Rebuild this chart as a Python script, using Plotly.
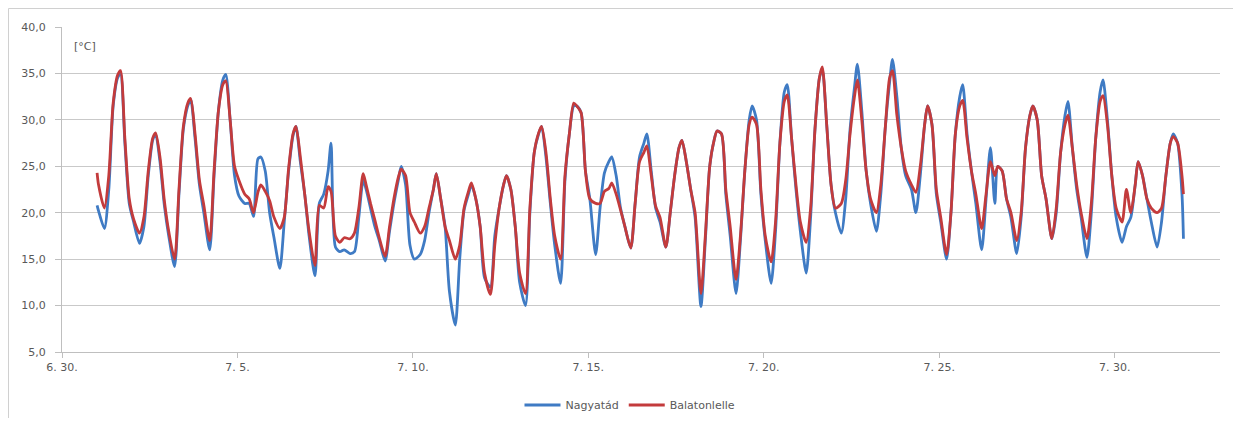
import datetime as dt
import plotly.graph_objects as go

# ---- data -------------------------------------------------------------
YEAR = 2012
DAYS = list(range(1, 32))                 # July 1 .. July 31
HOURS = [1, 5, 8, 11, 14, 16, 19, 22]     # sample hours within each day

START_N, START_B = 20.8, 24.3             # July 1, 00:00
END_N, END_B = 17.2, 22.0                 # July 31, 23:00

# Nagyatád (blue), one row per day, values at HOURS
NAGYATAD = [
    20.2, 18.3, 22.5, 31.5, 34.5, 35.0, 27.5, 21.0,
    19.0, 16.7, 18.5, 24.0, 27.8, 28.5, 25.5, 20.8,
    17.5, 14.2, 22.0, 29.0, 31.5, 32.2, 28.0, 23.0,
    20.0, 16.0, 24.0, 31.0, 34.3, 34.9, 30.0, 24.0,
    21.8, 21.0, 21.0, 19.6, 25.8, 26.0, 24.5, 20.0,
    17.3, 14.0, 19.0, 24.5, 28.3, 29.3, 25.5, 22.0,
    17.5, 13.2, 21.0, 22.0, 24.5, 27.5, 16.3, 15.8,
    16.0, 15.6, 15.8, 19.5, 23.5, 22.5, 20.5, 18.5,
    17.0, 14.8, 18.0, 21.0, 23.5, 25.0, 23.0, 16.5,
    15.0, 15.5, 17.0, 20.0, 22.5, 24.2, 21.5, 18.5,
    11.5, 7.9, 15.0, 20.3, 22.0, 23.0, 21.5, 18.5,
    13.0, 12.0, 17.5, 20.5, 23.0, 24.0, 22.5, 18.5,
    12.5, 10.0, 20.0, 26.5, 28.5, 29.3, 26.0, 21.0,
    16.5, 12.4, 23.5, 28.5, 31.5, 31.5, 30.8, 24.5,
    21.5, 15.5, 20.5, 24.3, 25.5, 26.0, 24.0, 20.5,
    18.5, 16.2, 21.0, 26.0, 27.5, 28.5, 24.5, 20.5,
    19.0, 16.3, 20.0, 24.0, 27.0, 27.8, 25.5, 22.5,
    19.5, 9.9, 17.0, 25.0, 27.8, 28.8, 28.5, 22.0,
    17.5, 11.3, 17.0, 24.5, 30.0, 31.5, 30.0, 22.0,
    17.0, 12.4, 18.0, 27.5, 33.0, 33.8, 28.0, 22.5,
    18.0, 13.5, 19.5, 29.0, 34.5, 35.5, 29.5, 23.0,
    20.0, 17.8, 21.5, 29.0, 33.5, 36.0, 31.0, 24.5,
    21.0, 18.0, 22.0, 29.0, 34.0, 36.5, 32.5, 27.0,
    24.0, 22.5, 20.0, 24.0, 29.5, 31.5, 29.5, 22.0,
    19.0, 15.0, 20.0, 28.5, 32.5, 33.8, 28.5, 24.5,
    21.0, 16.0, 21.5, 27.0, 21.0, 25.0, 24.5, 21.5,
    19.5, 15.6, 19.5, 27.0, 30.5, 31.5, 30.0, 24.0,
    21.5, 17.2, 20.0, 26.5, 30.5, 32.0, 27.0, 22.5,
    19.5, 15.2, 20.0, 28.0, 33.0, 34.3, 30.0, 24.0,
    19.5, 16.8, 18.5, 19.5, 23.0, 25.5, 24.0, 21.5,
    19.0, 16.3, 19.0, 24.0, 27.5, 28.5, 27.5, 22.0,
]

# Balatonlelle (red)
BALATONLELLE = [
    23.0, 20.5, 24.0, 31.8, 34.8, 35.3, 28.0, 21.5,
    19.3, 17.8, 19.5, 24.5, 28.0, 28.6, 26.0, 21.3,
    18.0, 15.0, 22.5, 29.3, 31.8, 32.3, 28.5, 23.5,
    20.8, 17.0, 24.5, 31.0, 33.8, 34.2, 30.0, 25.0,
    23.5, 22.0, 21.5, 20.0, 22.2, 23.0, 22.3, 21.3,
    19.5, 18.3, 19.5, 24.8, 28.5, 29.3, 26.0, 22.0,
    18.0, 14.3, 20.8, 20.5, 22.8, 22.3, 17.5, 16.8,
    17.3, 17.2, 17.8, 20.5, 24.2, 23.0, 21.0, 19.2,
    17.3, 15.3, 18.5, 21.5, 23.8, 24.7, 24.0, 20.0,
    19.0, 17.8, 18.5, 20.5, 22.5, 24.2, 21.5, 18.5,
    17.0, 15.0, 16.5, 20.5, 22.3, 23.2, 21.5, 18.5,
    13.5, 11.2, 16.5, 20.5, 23.0, 24.0, 22.5, 18.5,
    13.5, 11.3, 20.5, 26.5, 28.6, 29.3, 26.5, 21.5,
    17.5, 15.0, 24.0, 28.5, 31.8, 31.5, 30.8, 24.5,
    21.5, 21.0, 21.0, 22.3, 22.6, 23.2, 22.0, 20.3,
    18.5, 16.2, 21.0, 25.5, 26.5, 27.2, 24.0, 20.7,
    19.5, 16.3, 20.0, 24.0, 27.0, 27.8, 25.5, 22.5,
    20.0, 11.3, 17.5, 25.0, 27.8, 28.8, 28.5, 22.5,
    18.5, 12.8, 17.5, 24.5, 29.5, 30.3, 29.5, 22.5,
    17.5, 14.7, 19.0, 27.5, 32.0, 32.7, 28.0, 23.0,
    19.0, 16.8, 20.5, 29.0, 34.5, 35.7, 29.5, 23.0,
    20.5, 21.0, 23.5, 28.5, 32.5, 34.3, 30.0, 24.5,
    21.5, 20.0, 23.0, 29.0, 34.5, 35.3, 30.5, 27.0,
    24.5, 23.0, 22.2, 25.0, 29.5, 31.5, 29.5, 22.5,
    19.5, 15.5, 20.0, 28.5, 31.5, 32.1, 28.0, 24.5,
    22.0, 18.3, 22.0, 25.5, 24.0, 25.0, 24.5, 21.5,
    20.0, 17.0, 20.0, 27.0, 30.5, 31.5, 30.0, 24.0,
    21.5, 17.2, 20.5, 26.5, 29.5, 30.5, 27.0, 23.0,
    20.0, 17.2, 21.0, 28.0, 32.0, 32.6, 29.5, 24.0,
    20.5, 19.0, 22.5, 20.0, 23.0, 25.5, 24.0, 21.5,
    20.5, 20.0, 20.5, 24.0, 27.5, 28.2, 27.5, 24.0,
]

TICK_DATES = ["2012-06-30", "2012-07-05", "2012-07-10", "2012-07-15",
              "2012-07-20", "2012-07-25", "2012-07-30"]
TICK_LABELS = ["6. 30.", "7. 5.", "7. 10.", "7. 15.", "7. 20.", "7. 25.", "7. 30."]
Y_TICKS = [5, 10, 15, 20, 25, 30, 35, 40]

# ---- build time axis ----------------------------------------------------
times = [dt.datetime(YEAR, 7, 1, 0)]
for d in DAYS:
    for h in HOURS:
        times.append(dt.datetime(YEAR, 7, d, h))
times.append(dt.datetime(YEAR, 7, 31, 23))

n_vals = [START_N] + NAGYATAD + [END_N]
b_vals = [START_B] + BALATONLELLE + [END_B]

BLUE = "#3f7bc4"
RED = "#c33b3c"
GRID = "#c9c9c9"
TXT = "#595959"
FONT = "'DejaVu Sans', Verdana, sans-serif"

fig = go.Figure()
fig.add_trace(go.Scatter(x=times, y=n_vals, mode="lines", name="Nagyatád",
                         line=dict(color=BLUE, width=2.8, shape="spline", smoothing=0.7)))
fig.add_trace(go.Scatter(x=times, y=b_vals, mode="lines", name="Balatonlelle",
                         line=dict(color=RED, width=2.8, shape="spline", smoothing=0.7)))

# page body has an 8px margin; figure sized/margined so that the plot area
# lands at screen x 62..1220, y 27..352
W, H = 1225, 410
L, R, T, B = 54, 13, 19, 66
pw, ph = W - L - R, H - T - B


def px_x(sx):
    return (sx - 8 - L) / pw


def px_y(sy):
    return (H - B - (sy - 8)) / ph


fig.update_layout(
    width=W, height=H,
    margin=dict(l=L, r=R, t=T, b=B, autoexpand=False),
    paper_bgcolor="white", plot_bgcolor="white",
    separators=", ",
    font=dict(family=FONT, size=11, color=TXT),
    showlegend=True,
    legend=dict(orientation="h", xref="container", yref="container",
                x=(630 - 8) / W, xanchor="center",
                y=(H - (405 - 8)) / H, yanchor="middle",
                font=dict(size=11, color=TXT), itemwidth=36, tracegroupgap=0,
                bgcolor="rgba(0,0,0,0)"),
    xaxis=dict(
        type="date",
        range=["2012-06-30", "2012-08-02"],
        tickvals=TICK_DATES, ticktext=TICK_LABELS,
        showgrid=False, zeroline=False,
        showline=True, linecolor="#bfbfbf", linewidth=1,
        ticks="outside", ticklen=5, tickcolor="#bfbfbf",
        tickfont=dict(size=11, color=TXT),
    ),
    yaxis=dict(
        range=[5, 40], tickvals=Y_TICKS, tickformat=".1f",
        showgrid=True, gridcolor=GRID, gridwidth=1, zeroline=False,
        showline=True, linecolor="#bfbfbf", linewidth=1,
        ticks="outside", ticklen=6, tickcolor="#bfbfbf",
        tickfont=dict(size=11, color=TXT),
        ticklabelstandoff=7,
    ),
    annotations=[dict(text="[°C]", xref="paper", yref="paper", x=px_x(72), y=px_y(46),
                      xanchor="left", yanchor="middle", showarrow=False,
                      font=dict(size=11, color=TXT))],
    shapes=[
        dict(type="line", xref="paper", yref="paper", x0=px_x(8.5), x1=px_x(1241),
             y0=px_y(8.5), y1=px_y(8.5), line=dict(color="#d0d0d0", width=1)),
        dict(type="line", xref="paper", yref="paper", x0=px_x(8.5), x1=px_x(8.5),
             y0=px_y(8.5), y1=px_y(426), line=dict(color="#d0d0d0", width=1)),
    ],
)

fig.write_html("out.html")
